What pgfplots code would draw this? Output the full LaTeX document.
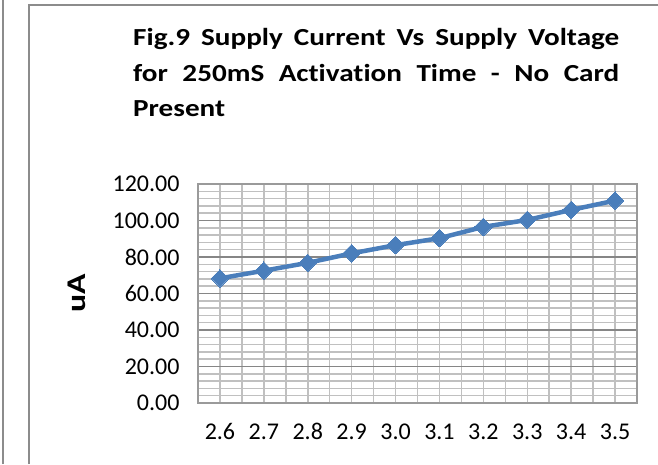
\documentclass[border=0pt]{standalone}
\usepackage{pgfplots}
\pgfplotsset{compat=1.18}
\usepackage{fontspec}
\setmainfont{Carlito}[Ligatures={NoCommon}]
\newfontfamily\titlefont[FakeStretch=1.19,Ligatures={NoCommon}]{Carlito}
\newfontfamily\labelfont[FakeStretch=1.25]{Carlito}
\definecolor{ser}{RGB}{74,126,187}
\definecolor{gmaj}{RGB}{134,134,134}
\definecolor{gmin}{RGB}{192,192,192}
\definecolor{frame}{RGB}{140,140,140}
\begin{document}
\begin{tikzpicture}[x=1pt,y=1pt]
\useasboundingbox (0,0) rectangle (658,464);
\draw[color=frame, line width=1.8pt] (3,0) -- (3,464);
\draw[color=frame, line width=1.8pt] (29,0) -- (29,459) -- (662,459);
\node[anchor=north west, text width=486pt, align=justify, inner sep=0pt,
      font=\titlefont\fontsize{24.5}{35.8}\selectfont\bfseries] at (133,436)
  {Fig.9 Supply Current Vs Supply Voltage\linebreak for 250mS Activation Time - No Card\linebreak Present};
\node[rotate=90, font=\labelfont\fontsize{27}{30}\selectfont\bfseries] at (77,171) {uA};
\begin{axis}[
  at={(198pt,61pt)}, anchor=south west,
  scale only axis, width=439pt, height=219pt,
  xmin=2.55, xmax=3.55, ymin=0, ymax=120,
  xtick={2.6,2.7,2.8,2.9,3.0,3.1,3.2,3.3,3.4,3.5},
  xticklabels={2.6,2.7,2.8,2.9,3.0,3.1,3.2,3.3,3.4,3.5},
  minor xtick={2.65,2.75,2.85,2.95,3.05,3.15,3.25,3.35,3.45},
  ytick={0,20,40,60,80,100,120},
  yticklabels={0.00,20.00,40.00,60.00,80.00,100.00,120.00},
  minor ytick={4,8,12,16,24,28,32,36,44,48,52,56,64,68,72,76,84,88,92,96,104,108,112,116},
  grid=both,
  major x grid style={color=gmin, line width=1.5pt},
  minor x grid style={color=gmin, line width=1.5pt},
  major y grid style={color=gmaj, line width=1.5pt},
  minor y grid style={color=gmin, line width=1.5pt},
  axis line style={color=gmin!80!black, line width=1.5pt},
  major tick length=0pt, minor tick length=0pt,
  tick label style={font=\fontsize{24}{28}\selectfont},
  yticklabel style={xshift=-15pt},
  xticklabel style={yshift=-17pt},
  clip=false,
]
\addplot[color=ser, line width=4.5pt, line join=round,
  mark=square*, mark size=6.2pt, mark options={rotate=45, fill=ser, line width=0pt}]
  coordinates {
  (2.6,68.3) (2.7,72.5) (2.8,76.8) (2.9,82.0) (3.0,86.5)
  (3.1,90.3) (3.2,96.5) (3.3,100.3) (3.4,105.8) (3.5,110.9)
  };
\end{axis}
\end{tikzpicture}
\end{document}
